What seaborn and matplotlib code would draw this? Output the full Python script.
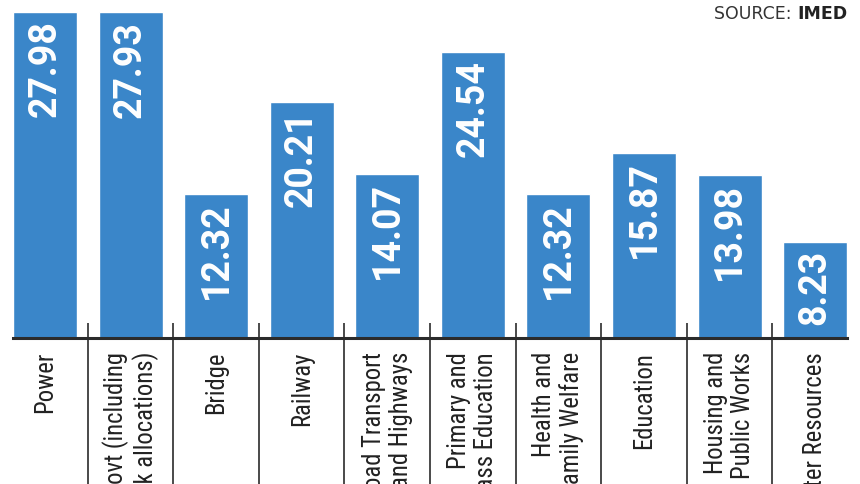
import matplotlib
matplotlib.use("Agg")
import matplotlib.pyplot as plt
from matplotlib import font_manager
import seaborn as sns

# ministries and their ADP allocation share (values as printed on the bars)
ministries = [
    "Power",
    "Local Govt (including\nblock allocations)",
    "Bridge",
    "Railway",
    "Road Transport\nand Highways",
    "Primary and\nMass Education",
    "Health and\nFamily Welfare",
    "Education",
    "Housing and\nPublic Works",
    "Water Resources",
]
values = [27.98, 27.93, 12.32, 20.21, 14.07, 24.54, 12.32, 15.87, 13.98, 8.23]

BLUE = "#3a86c9"
DARK = "#2b2b2b"

sns.set_theme(style="white")
plt.rcParams["font.family"] = ["Roboto", "DejaVu Sans"]

# a narrow face for the category labels, if one is installed
installed = {f.name for f in font_manager.fontManager.ttflist}
label_font = "Roboto"
for cand in ["Liberation Sans Narrow", "Roboto Condensed", "DejaVu Sans Condensed",
             "Open Sans Condensed"]:
    if cand in installed:
        label_font = cand
        break

fig = plt.figure(figsize=(8.6, 4.84), dpi=100)
ax = fig.add_axes([0, 0.3017, 1, 0.6983])

sns.barplot(x=list(range(len(values))), y=values, color=BLUE, saturation=1,
            width=0.748, ax=ax)

ax.set_xlim(-0.526, 9.525)
ax.set_ylim(0, 29.0)
ax.set_xticks([])
ax.set_yticks([])
ax.set_xlabel("")
ax.set_ylabel("")
for s in ["left", "top", "right"]:
    ax.spines[s].set_visible(False)
ax.spines["bottom"].set_bounds(-0.374, len(values) - 1 + 0.374)
ax.spines["bottom"].set_color(DARK)
ax.spines["bottom"].set_linewidth(2.2)
ax.spines["bottom"].set_zorder(5)

# value labels inside the bars
for i, v in enumerate(values):
    ax.text(i, v - 0.7, f"{v:.2f}", rotation=90, ha="center", va="top",
            color="white", fontsize=27, fontweight="bold",
            family=["Roboto", "DejaVu Sans"])

# size the labels so that "Power" is about 61px long, as in the original
probe = ax.text(0, 0, "Power", rotation=90, fontsize=18, family=[label_font])
fig.canvas.draw()
plen = probe.get_window_extent().height
probe.remove()
lab_size = 18 * 61.0 / plen

# category labels under the axis
for i, name in enumerate(ministries):
    ax.text(i, -1.2, name, rotation=90, ha="center", va="top",
            multialignment="right", color="#222222", fontsize=lab_size,
            family=[label_font, "DejaVu Sans"],
            clip_on=False, linespacing=1.15)

# separators between categories
seps = [i + 0.5 for i in range(len(values) - 1)]
ax.vlines(seps, -14, 1.3, color=DARK, linewidth=1.2, clip_on=False, zorder=4)

src_reg = fig.text(0.985, 0.972, "SOURCE: ", ha="right", va="center",
                   fontsize=12.5, color="#333333", family=["DejaVu Sans"])
src = fig.text(0.985, 0.972, "IMED", ha="right", va="center", fontsize=12.5,
               fontweight="bold", color="#222222", family=["DejaVu Sans"])
fig.canvas.draw()
bb = src.get_window_extent()
src_reg.set_position((bb.x0 / fig.bbox.width, 0.972))

fig.savefig("out.png", dpi=100)
